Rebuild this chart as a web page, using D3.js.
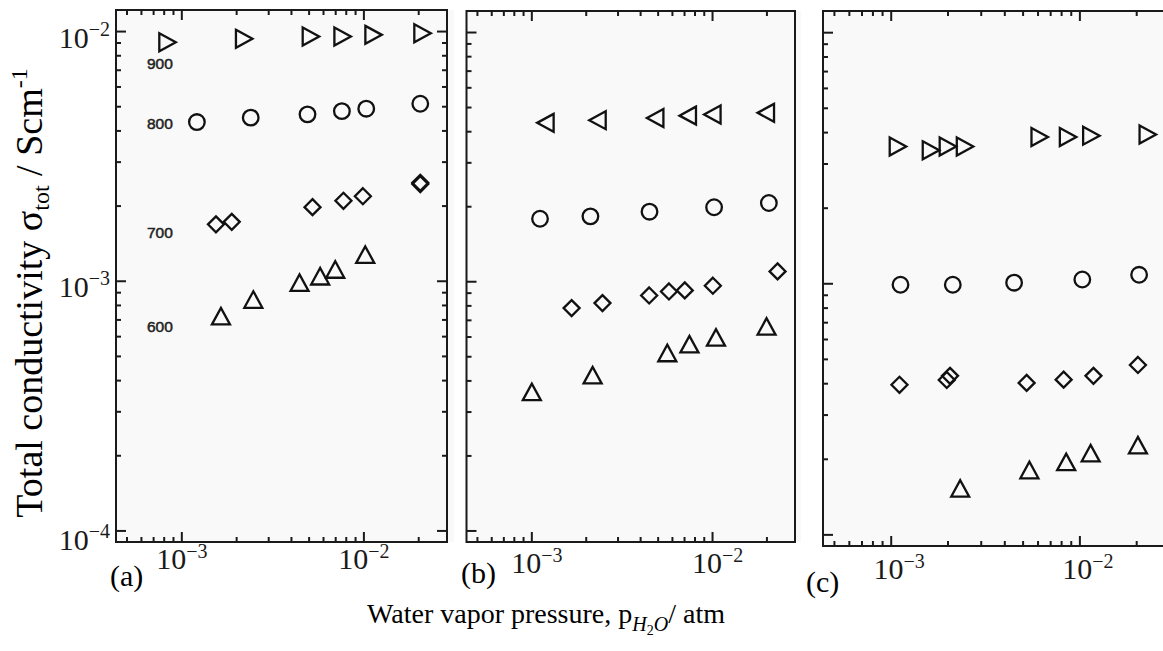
<!DOCTYPE html>
<html>
<head>
<meta charset="utf-8">
<script src="https://cdn.jsdelivr.net/npm/d3@7"></script>
<style>
  html, body { margin: 0; padding: 0; background: #fff; }
  svg { display: block; }
</style>
</head>
<body>
<svg id="chart" width="1163" height="651"></svg>
<script>
// ---- data: total conductivity (S/cm) vs water vapour pressure (atm) ----
const xDomain = [4.35e-4, 2.86e-2];
const yDomain = [9.03e-5, 1.22e-2];
const xTickValues = [1e-3, 1e-2];
const xTickExps = ["−3", "−2"];
const yTickValues = [1e-2, 1e-3, 1e-4];
const yTickExps = ["−2", "−3", "−4"];
const panelLetters = ["(a)", "(b)", "(c)"];
const tempLabels = ["900", "800", "700", "600"];
const tempLabelY = [7.05e-3, 4.06e-3, 1.49e-3, 6.25e-4];

// panel (a)
const a900x = [8.27e-4, 2.18e-3, 5.07e-3, 7.57e-3, 1.12e-2, 2.08e-2];
const a900y = [9.06e-3, 9.35e-3, 9.55e-3, 9.55e-3, 9.70e-3, 9.85e-3];
const a800x = [1.21e-3, 2.39e-3, 4.90e-3, 7.57e-3, 1.03e-2, 2.04e-2];
const a800y = [4.34e-3, 4.52e-3, 4.66e-3, 4.80e-3, 4.91e-3, 5.14e-3];
const a700x = [1.54e-3, 1.88e-3, 5.22e-3, 7.72e-3, 9.87e-3, 2.04e-2, 2.04e-2];
const a700y = [1.69e-3, 1.73e-3, 1.98e-3, 2.10e-3, 2.19e-3, 2.45e-3, 2.48e-3];
const a600x = [1.64e-3, 2.47e-3, 4.43e-3, 5.75e-3, 6.96e-3, 1.017e-2];
const a600y = [7.20e-4, 8.39e-4, 9.80e-4, 1.04e-3, 1.107e-3, 1.27e-3];

// panel (b)
const b900x = [1.20e-3, 2.33e-3, 4.86e-3, 7.36e-3, 1.007e-2, 1.99e-2];
const b900y = [4.34e-3, 4.45e-3, 4.54e-3, 4.64e-3, 4.69e-3, 4.76e-3];
const b800x = [1.11e-3, 2.11e-3, 4.48e-3, 1.02e-2, 2.05e-2];
const b800y = [1.79e-3, 1.83e-3, 1.91e-3, 1.99e-3, 2.07e-3];
const b700x = [1.66e-3, 2.46e-3, 4.46e-3, 5.74e-3, 7.02e-3, 1.004e-2, 2.29e-2];
const b700y = [7.84e-4, 8.21e-4, 8.81e-4, 9.14e-4, 9.23e-4, 9.64e-4, 1.10e-3];
const b600x = [1.00e-3, 2.17e-3, 5.62e-3, 7.45e-3, 1.045e-2, 1.99e-2];
const b600y = [3.59e-4, 4.19e-4, 5.14e-4, 5.58e-4, 5.94e-4, 6.57e-4];

// panel (c)
const c900x = [1.076e-3, 1.61e-3, 1.98e-3, 2.44e-3, 6.07e-3, 8.58e-3, 1.14e-2, 2.27e-2];
const c900y = [3.52e-3, 3.40e-3, 3.52e-3, 3.52e-3, 3.84e-3, 3.84e-3, 3.89e-3, 3.93e-3];
const c800x = [1.12e-3, 2.12e-3, 4.48e-3, 1.03e-2, 2.06e-2];
const c800y = [9.91e-4, 9.91e-4, 1.01e-3, 1.04e-3, 1.086e-3];
const c700x = [1.106e-3, 1.97e-3, 2.05e-3, 5.22e-3, 8.20e-3, 1.18e-2, 2.03e-2];
const c700y = [3.96e-4, 4.14e-4, 4.30e-4, 4.03e-4, 4.15e-4, 4.30e-4, 4.75e-4];
const c600x = [2.32e-3, 5.40e-3, 8.46e-3, 1.14e-2, 2.03e-2];
const c600y = [1.52e-4, 1.80e-4, 1.94e-4, 2.10e-4, 2.26e-4];

// ---- marker shapes (outline paths centred on 0,0) ----
const shapes = {
  right: "M-7.5,-9L9,0L-7.5,9Z",
  left: "M7.5,-9L-9,0L7.5,9Z",
  up: "M-9,7.5L0,-9L9,7.5Z",
  diamond: "M0,-8L8,0L0,8L-8,0Z",
  circle: d3.symbol(d3.symbolCircle, Math.PI * 7.8 * 7.8)()
};

const zip = (xs, ys) => xs.map((x, i) => ({ x, y: ys[i] }));

// ---- layout of the three panels ----
const panels = [
  { box: [116, 447, 10, 542], back: [116, 454], rightTicks: true, tickLabelDx: 0, tickLabelY: 569, letterX: 110, letterY: 586,
    series: [["right", zip(a900x, a900y)], ["circle", zip(a800x, a800y)], ["diamond", zip(a700x, a700y)], ["up", zip(a600x, a600y)]] },
  { box: [466.5, 795, 11, 542], back: [466.5, 801], rightTicks: false, tickLabelDx: 5, tickLabelY: 573, letterX: 461, letterY: 583,
    series: [["left", zip(b900x, b900y)], ["circle", zip(b800x, b800y)], ["diamond", zip(b700x, b700y)], ["up", zip(b600x, b600y)]] },
  { box: [823, 1166, 11, 546], back: [823, 1166], rightTicks: false, tickLabelDx: 8, tickLabelY: 579, letterX: 806, letterY: 592,
    series: [["right", zip(c900x, c900y)], ["circle", zip(c800x, c800y)], ["diamond", zip(c700x, c700y)], ["up", zip(c600x, c600y)]] }
];

const svg = d3.select("#chart");
const ink = "#1a1a1a";
const serif = "'Liberation Serif', 'Times New Roman', serif";

// tick values (majors at decades, minors at 2..9) inside a domain
function logTicks(domain) {
  const out = [];
  for (let e = -5; e <= -1; e++) {
    for (let m = 1; m <= 9; m++) {
      const v = m * Math.pow(10, e);
      if (v >= domain[0] && v <= domain[1]) out.push({ v, major: m === 1 });
    }
  }
  return out;
}

panels.forEach((p, pi) => {
  const [x0, x1, y0, y1] = p.box;
  const x = d3.scaleLog().domain(xDomain).range([x0, x1]);
  const y = d3.scaleLog().domain(yDomain).range([y1, y0]);
  const g = svg.append("g");

  // plot background
  g.append("rect").attr("x", p.back[0]).attr("y", y0).attr("width", p.back[1] - p.back[0]).attr("height", y1 - y0)
    .attr("fill", "#f9f9f9");

  // inward ticks
  const xt = logTicks(xDomain), yt = logTicks(yDomain);
  const tk = g.append("g").attr("stroke", ink).attr("stroke-width", 2);
  xt.forEach(t => {
    const L = t.major ? 10 : 5;
    tk.append("line").attr("x1", x(t.v)).attr("x2", x(t.v)).attr("y1", y1).attr("y2", y1 - L);
    tk.append("line").attr("x1", x(t.v)).attr("x2", x(t.v)).attr("y1", y0).attr("y2", y0 + L);
  });
  yt.forEach(t => {
    const L = t.major ? 10 : 5;
    tk.append("line").attr("x1", x0).attr("x2", x0 + L).attr("y1", y(t.v)).attr("y2", y(t.v));
    if (p.rightTicks)
      tk.append("line").attr("x1", x1).attr("x2", x1 - L).attr("y1", y(t.v)).attr("y2", y(t.v));
  });

  // frame
  g.append("rect").attr("x", x0).attr("y", y0).attr("width", x1 - x0).attr("height", y1 - y0)
    .attr("fill", "none").attr("stroke", ink).attr("stroke-width", 2);

  // markers
  p.series.forEach(([shape, pts]) => {
    g.append("g").selectAll("path").data(pts).join("path")
      .attr("d", shapes[shape])
      .attr("transform", d => `translate(${x(d.x)},${y(d.y)})`)
      .attr("fill", "none").attr("stroke", "#111").attr("stroke-width", 2.3).attr("stroke-linejoin", "miter");
  });

  // x tick labels
  xTickValues.forEach((v, i) => {
    const t = g.append("text").attr("x", x(v) + p.tickLabelDx).attr("y", p.tickLabelY)
      .attr("text-anchor", "middle").attr("font-family", serif).attr("font-size", 30).attr("fill", ink);
    t.append("tspan").text("10");
    t.append("tspan").attr("dy", -11).attr("font-size", 20).text(xTickExps[i]);
  });

  // panel letter
  g.append("text").attr("x", p.letterX).attr("y", p.letterY).attr("font-family", serif)
    .attr("font-size", 30).attr("fill", "#000").text(panelLetters[pi]);

  // y tick labels and temperature labels on the first panel only
  if (pi === 0) {
    yTickValues.forEach((v, i) => {
      const t = g.append("text").attr("x", x0 - 6).attr("y", y(v) + (i === 2 ? 19 : 16))
        .attr("text-anchor", "end").attr("font-family", serif).attr("font-size", 30).attr("fill", ink);
      t.append("tspan").text("10");
      t.append("tspan").attr("dy", -12).attr("font-size", 20).text(yTickExps[i]);
    });
    tempLabels.forEach((s, i) => {
      g.append("text").attr("x", 147).attr("y", y(tempLabelY[i]))
        .attr("font-family", "'Liberation Sans', Arial, sans-serif").attr("font-size", 15.5)
        .attr("fill", "#222").attr("stroke", "#222").attr("stroke-width", 0.5).text(s);
    });
  }
});

// y-axis title
const yTitle = svg.append("text").attr("transform", "translate(42,293) rotate(-90)").attr("text-anchor", "middle")
  .attr("font-family", serif).attr("font-size", 38).attr("fill", "#000");
yTitle.append("tspan").text("Total conductivity σ");
yTitle.append("tspan").attr("font-size", 24).attr("dy", 7).text("tot");
yTitle.append("tspan").attr("dy", -7).text(" / Scm");
yTitle.append("tspan").attr("font-size", 24).attr("dy", -15).text("-1");

// x-axis title
const xTitle = svg.append("text").attr("x", 546).attr("y", 623).attr("text-anchor", "middle")
  .attr("font-family", serif).attr("font-size", 28).attr("fill", "#000");
xTitle.append("tspan").text("Water vapor pressure, p");
xTitle.append("tspan").attr("dy", 8).attr("font-size", 20).attr("font-style", "italic").text("H");
xTitle.append("tspan").attr("dy", 4).attr("font-size", 14).text("2");
xTitle.append("tspan").attr("dy", -4).attr("font-size", 20).attr("font-style", "italic").text("O");
xTitle.append("tspan").attr("dy", -8).text("/ atm");
</script>
</body>
</html>
